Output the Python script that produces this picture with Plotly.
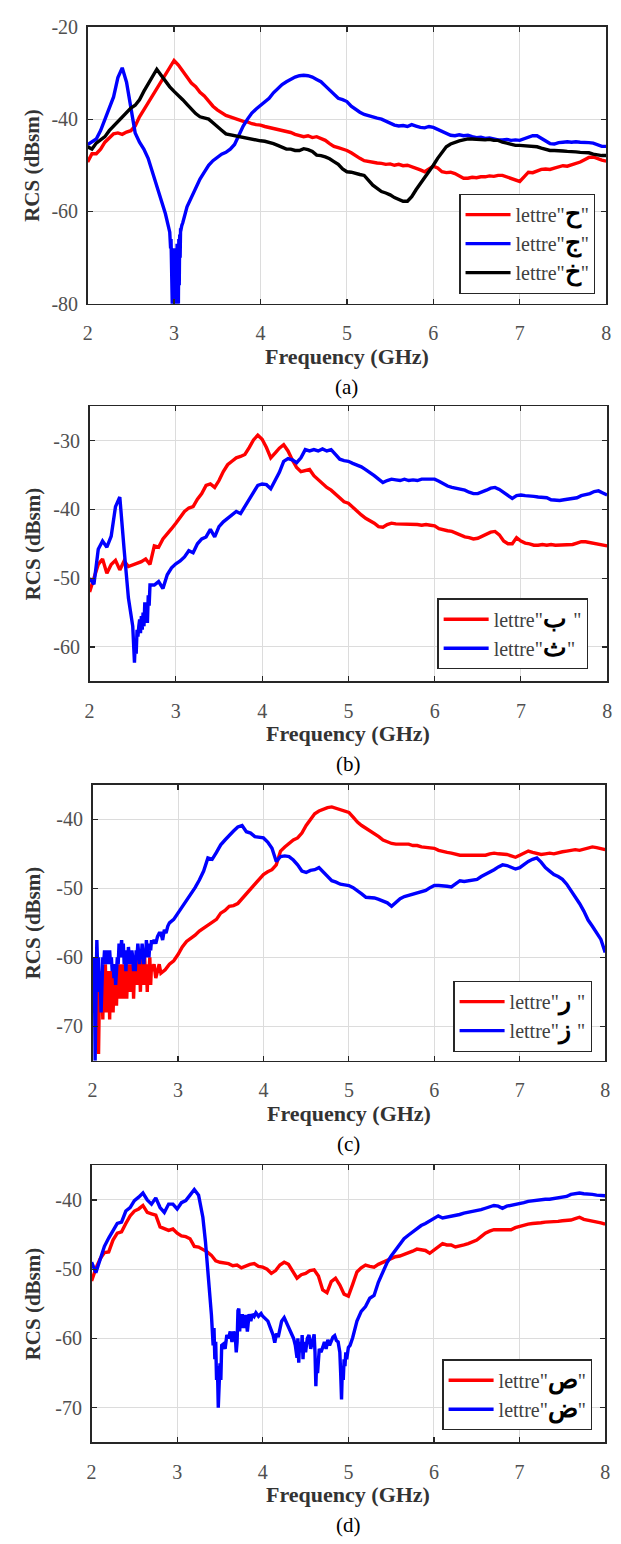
import plotly.graph_objects as go

W, H = 621, 1544
grid = [round(2 + 0.05 * i, 2) for i in range(121)]

# ---------------- Panel (a) ----------------
a_red = [-49.3, -47.5, -47.5, -46.5, -45, -44, -43.2, -43, -43.3, -42.8,
         -42.5, -41.5, -39.5, -38, -36.5, -35, -33.5, -32, -30.5, -29,
         -27.3, -28.3, -29.5, -31, -32.2, -33, -34.2, -35, -36.2, -37.2,
         -38, -38.7, -39.2, -39.5, -39.8, -40.2, -40.5, -40.6, -41, -41.2,
         -41.3, -41.6, -41.8, -42, -42.2, -42.4, -42.6, -42.9, -43.3, -43.6,
         -43.8, -43.6, -44, -43.8, -44.2, -44.6, -45.3, -45.9, -46.2, -46.5,
         -46.8, -47.3, -48, -48.5, -49, -49.2, -49.4, -49.5, -49.6, -49.8,
         -49.7, -50, -49.8, -50.1, -50, -50.3, -50.6, -51, -51.4, -50.8,
         -50.2, -50.6, -51.4, -51.6, -51.5, -51.8, -52.3, -52.8, -52.8, -52.6,
         -52.7, -52.5, -52.5, -52.3, -52.4, -52.2, -52.2, -52.5, -52.8, -53.2,
         -53.5, -52.5, -51.5, -51.6, -51.2, -50.9, -50.8, -50.9, -50.6, -50.3,
         -50.1, -50.2, -49.9, -49.5, -49.3, -48.8, -48.3, -48.2, -48.6, -48.9,
         -49.1]

a_blue_lo = [-45.5, -45, -44.3, -42.5, -40.2, -37.8, -35.2, -31, -28.9, -32,
             -38, -43, -45, -46.5, -48.5, -51.5, -55, -57.5, -60.5, -64.5]
a_blue_dip_f = [2.955, 2.96, 2.965, 2.97, 2.975, 2.98, 2.985, 2.99, 2.995, 3.0,
                3.005, 3.01, 3.015, 3.02, 3.025, 3.03, 3.035, 3.04, 3.045, 3.05,
                3.055, 3.06, 3.065, 3.07, 3.075, 3.08, 3.09]
a_blue_dip = [-66, -68, -66, -81, -67, -81, -68, -81, -68, -81,
              -69, -81, -68, -81, -68, -81, -67, -81, -67, -80,
              -66, -76, -65, -70, -64, -64, -63]
a_blue_hi = [-62.5, -59, -57, -55, -53, -51.5, -50, -49,
             -48.2, -47.6, -47.2, -46.5, -45.5, -43.5, -41.5, -40, -38.7, -37.8,
             -37, -36.2, -35.5, -34.3, -33.3, -32.5, -31.9, -31.3, -30.9, -30.6,
             -30.5, -30.6, -30.9, -31.4, -31.9, -32.8, -33.7, -34.6, -35.5, -35.8,
             -36.2, -37.2, -37.9, -38.5, -39, -39.3, -39.6, -39.8, -40, -40.5,
             -41, -41.3, -41.5, -41.4, -41.6, -41.2, -41.5, -41.8, -41.9, -41.6,
             -41.8, -42.2, -42.6, -43.1, -43.5, -43.6, -43.4, -43.6, -43.5, -43.8,
             -44, -43.9, -44.2, -44.1, -44.3, -44.5, -44.5, -44.4, -44.6, -44.5,
             -44.6, -44.2, -43.9, -43.6, -43.6, -44.2, -44.8, -45.3, -45.4, -45.1,
             -45, -44.9, -45, -44.9, -45, -45, -45.1, -45.2, -45.6, -45.9,
             -45.9]

a_black = [-46, -46.5, -45.2, -44.5, -43.8, -42.5, -41.5, -40.5, -39.5, -38.5,
           -37.6, -37, -35.8, -34, -32.3, -30.8, -29.2, -30.5, -31.8, -33,
           -34, -34.8, -35.8, -36.8, -37.8, -38.8, -39.5, -39.8, -40, -40.8,
           -41.5, -42.4, -43.2, -43.4, -43.6, -43.8, -44, -44.1, -44.3, -44.6,
           -44.7, -44.8, -45, -45.3, -45.7, -46.1, -46.5, -46.5, -46.8, -46.8,
           -46.4, -46.6, -47, -47.8, -47.9, -48.2, -48.6, -49.2, -49.8, -50.8,
           -51.4, -51.5, -51.8, -52, -52.2, -53.2, -54.3, -55, -55.7, -56,
           -56.4, -57, -57.4, -57.8, -57.8, -56.8, -55.3, -54, -52.8, -51.5,
           -50, -48.5, -47.2, -46, -45.4, -45, -44.7, -44.5, -44.3, -44.3,
           -44.4, -44.5, -44.5, -44.4, -44.6, -44.6, -45, -45.2, -45.5, -45.7,
           -45.7, -45.8, -45.9, -46, -46, -46.3, -46.6, -46.8, -46.8, -46.8,
           -46.9, -47, -47, -47.1, -47.2, -47.3, -47.3, -47.6, -47.8, -47.9,
           -47.9]

# ---------------- Panel (b) ----------------
b_red = [-52, -50, -48, -47.2, -49.3, -48, -47.4, -48.8, -47.5, -48.3,
         -48.1, -47.8, -47.6, -47.2, -48, -45.3, -45.5, -44.3, -43.6, -42.8,
         -42, -41.2, -40.3, -39.8, -39.6, -38.5, -37.7, -36.5, -36.3, -36.8,
         -35.8, -34.5, -33.5, -33, -32.5, -32.3, -32, -31, -29.9, -29.2,
         -29.8, -31, -32.5, -31.8, -31.1, -30.6, -31.5, -32.8, -33.9, -34.5,
         -34.4, -34.2, -35.1, -35.7, -36.3, -36.8, -37.2, -37.8, -38.4, -38.9,
         -39.1, -39.7, -40.3, -40.8, -41.3, -41.6, -42, -42.5, -42.6, -42.2,
         -42, -42.1, -42.1, -42.2, -42.2, -42.1, -42.2, -42.3, -42.2, -42.3,
         -42.4, -42.8, -43, -43.1, -43.2, -43.5, -43.7, -44, -44.1, -44.3,
         -44.2, -43.9, -43.6, -43.3, -43.2, -43.7, -44.6, -45, -45, -44.1,
         -44.6, -44.9, -45, -45.2, -45.2, -45.1, -45.2, -45.1, -45.2, -45.2,
         -45.1, -45.2, -45.1, -44.9, -44.7, -44.7, -44.8, -44.9, -45, -45.2,
         -45.3]

b_blue_lo = [-50, -50.9, -45.8, -44.6, -45.5, -43.9, -39.6, -38.2, -45.8, -52.9]
b_blue_dip_f = [round(2.5 + 0.01 * i, 2) for i in range(21)]
b_blue_dip = [-57, -60, -62.3, -59, -61, -57.5, -58.5, -57, -56, -58,
              -55.5, -57.5, -55, -57, -53.5, -56, -54, -56.5, -52.5, -54,
              -51]
b_blue_hi = [-51, -50.5, -51.5, -49.5, -48.5,
             -47.9, -47.5, -46.9, -46, -46.3, -45, -44.3, -44, -42.9, -44,
             -42.5, -41.8, -41.3, -40.8, -40.3, -40.6, -39.6, -38.5, -37.5, -36.5,
             -36.3, -36.4, -37, -35.8, -34.6, -33, -32.6, -32.8, -33.2, -32.5,
             -31.3, -31.5, -31.3, -31.5, -31.2, -31.5, -31.3, -32, -32.7, -32.9,
             -33, -33.3, -33.5, -33.8, -34.2, -34.6, -35.1, -35.6, -36.1, -35.8,
             -35.6, -35.7, -35.8, -35.6, -35.8, -35.7, -35.8, -35.6, -35.6, -35.5,
             -35.6, -35.9, -36.3, -36.6, -36.8, -36.9, -37, -37.2, -37.5, -37.7,
             -37.7, -37.5, -37.2, -36.9, -36.8, -37.1, -37.5, -38, -38.4, -38,
             -37.9, -38, -38, -38.1, -38.2, -38.3, -38.3, -38.6, -38.7, -38.7,
             -38.6, -38.5, -38.4, -38.3, -38, -37.9, -37.7, -37.4, -37.3, -37.6,
             -37.9]

# ---------------- Panel (c) ----------------
c_noise_f = [round(2 + 0.01 * i, 2) for i in range(71)]
c_red_noise = [-63, -66, -62, -65, -61, -64, -62, -74, -65, -62,
               -66, -63, -69, -62, -65, -61, -68, -63, -66, -62,
               -69, -63, -67, -62, -68, -64, -66, -61, -67, -62,
               -65, -61, -66, -63, -65, -61, -66, -62, -64, -61,
               -66, -62, -64, -61, -65, -62, -64, -61, -66, -62,
               -63, -61, -64, -60, -63, -61, -65, -60, -63, -61,
               -64, -60, -63, -61, -65, -61, -62, -60, -64, -61,
               -62]
c_red_mid_f = [2.72, 2.74, 2.76, 2.78]
c_red_mid = [-61, -63, -62, -61]
c_red_hi = [-62.3, -61.8, -61, -60.5,
            -59.6, -58.5, -57.7, -57.3, -56.8, -56.2, -55.8, -55.3, -54.9, -54.5,
            -53.6, -53.2, -52.6, -52.5, -52.2, -51.5, -50.8, -50, -49.4, -48.7,
            -48, -47.6, -47.3, -46.6, -44.6, -44, -43.5, -43, -42.7, -42,
            -40.9, -40, -39.2, -38.8, -38.5, -38.3, -38.2, -38.4, -38.5, -38.7,
            -39, -39.7, -40.4, -40.9, -41.3, -41.7, -42, -42.5, -43, -43.3,
            -43.5, -43.6, -43.6, -43.7, -43.6, -43.8, -43.8, -44, -44.1, -44.2,
            -44.2, -44.5, -44.7, -44.8, -44.9, -45.1, -45.2, -45.2, -45.2, -45.3,
            -45.2, -45.3, -45.2, -45, -44.9, -45, -45, -45.1, -45.3, -45.5,
            -45.2, -44.9, -44.6, -44.8, -45, -45.1, -45, -44.9, -45, -44.8,
            -44.7, -44.6, -44.5, -44.4, -44.5, -44.3, -44.2, -44, -44.1, -44.3,
            -44.4]

c_blue_noise = [-61, -64, -60, -75, -66, -57.5, -62, -60, -65, -63,
                -68, -62, -60, -61, -59, -60, -59, -61, -59, -60.5,
                -59, -61, -60, -62, -61, -63, -61, -64, -62, -60,
                -61, -58, -60, -58, -57.5, -60, -58, -61, -59, -62,
                -59, -61, -58.5, -60, -59, -61, -59, -60, -62, -60,
                -62, -59, -60, -58, -60, -61, -59, -60, -58, -60,
                -61, -59, -60, -57.5, -59, -58, -60, -58, -59, -57.5,
                -58]
c_blue_mid_f = [2.72, 2.74, 2.76, 2.78, 2.80, 2.82, 2.84, 2.86, 2.88]
c_blue_mid = [-57.5, -58, -57, -56.5, -56.5, -57.5, -56, -56.5, -55.5]
c_blue_hi = [-55, -54.5,
             -53.6, -52.5, -51.7, -50.8, -49.9, -48.8, -47.5, -45.6, -45.8, -44.8,
             -43.7, -43, -42.3, -41.7, -41.1, -40.9, -41.8, -42, -42.5, -42.6,
             -42.7, -43.3, -44.2, -46.1, -45.4, -45.3, -45.4, -45.9, -46.6, -47.5,
             -47.7, -47.4, -47.3, -47, -47.6, -48.3, -48.9, -49.1, -49.4, -49.5,
             -49.6, -49.9, -50.3, -50.8, -51.3, -51.3, -51.4, -51.6, -51.8, -52.1,
             -52.6, -52, -51.5, -51.2, -51, -50.8, -50.6, -50.4, -50.3, -49.9,
             -49.6, -49.6, -49.6, -49.7, -49.8, -49.3, -48.9, -49, -48.9, -48.8,
             -48.7, -48.3, -48, -47.6, -47.3, -46.9, -46.6, -46.7, -46.9, -47.2,
             -47, -46.5, -46.1, -45.8, -45.6, -46.2, -47, -47.5, -48, -48.3,
             -48.7, -49.4, -50.3, -51.2, -52.2, -53.3, -54.6, -55.5, -56.5, -57.4,
             -59.3]

# ---------------- Panel (d) ----------------
d_red = [-51.7, -49.9, -48.5, -47.6, -47.5, -45.8, -44.8, -44.6, -43.4, -42.3,
         -41.6, -41.3, -40.8, -41.8, -42, -42.2, -43.9, -44.2, -44.4, -44.2,
         -44.8, -45.2, -45.3, -45.6, -46.7, -46.8, -47.1, -47.5, -48, -48.8,
         -49, -49.1, -49.2, -49.5, -49.4, -49.8, -49.5, -49.3, -49.2, -49.6,
         -49.7, -50, -50.6, -50.2, -49.4, -49, -49.3, -50.2, -51.3, -50.8,
         -50.6, -50.2, -50.1, -51, -53, -53.4, -51.8, -51.3, -52.3, -53.6,
         -53.9, -52.2, -50.4, -49.8, -49.4, -49.6, -49.7, -49.3, -49, -48.7,
         -48.4, -48.2, -48.1, -47.9, -47.7, -47.4, -47.1, -47.2, -47.3, -47.7,
         -47.2, -46.7, -46.3, -46.5, -46.5, -46.8, -46.7, -46.5, -46.3, -46,
         -45.8, -45.3, -44.8, -44.5, -44.3, -44.3, -44.3, -44.3, -44.3, -44,
         -43.8, -43.6, -43.5, -43.4, -43.4, -43.3, -43.2, -43.2, -43.1, -43.1,
         -43, -43, -42.9, -42.7, -42.5, -42.8, -42.9, -43, -43.1, -43.3,
         -43.5]

d_blue_lo = [-49, -50.5, -48.6, -46.7, -45.5, -44.4, -43.4, -43.2, -41.6, -41.1,
             -40.1, -39.6, -39, -40, -40.6, -39.7, -41.1, -41.8, -40.6, -40.6,
             -41.3, -40.4, -40.1, -39.3, -38.5, -39.3, -42.5]
d_blue_dip_f = [3.33, 3.36, 3.38, 3.40, 3.42, 3.43, 3.44, 3.45, 3.46, 3.47,
                3.48, 3.49, 3.50, 3.51, 3.52, 3.54, 3.56, 3.58, 3.60, 3.62,
                3.64, 3.66, 3.68, 3.69, 3.70, 3.71, 3.72, 3.73, 3.74, 3.75,
                3.76, 3.78, 3.80, 3.82, 3.84, 3.86, 3.88, 3.90, 3.92, 3.95,
                3.98, 4.00, 4.03, 4.06, 4.09, 4.12, 4.14, 4.16, 4.18, 4.20,
                4.22, 4.25, 4.28, 4.30, 4.33, 4.36, 4.38, 4.40, 4.41, 4.42,
                4.43, 4.45, 4.46, 4.47, 4.48, 4.50, 4.52, 4.54, 4.56, 4.58,
                4.60, 4.61, 4.62, 4.63, 4.64, 4.66, 4.68, 4.70, 4.72, 4.74,
                4.76, 4.78, 4.80, 4.82, 4.84, 4.86, 4.88, 4.90, 4.91, 4.92,
                4.93, 4.94, 4.95, 4.96, 4.97, 4.98, 5.00, 5.02, 5.05]
d_blue_dip = [-46, -50, -54, -56.6, -61, -58.5, -63, -60.5, -66, -64,
              -70, -64.5, -63.6, -66, -61, -60.8, -61.5, -59.5, -60, -59,
              -60.5, -59, -60, -62, -60.5, -56, -55.7, -59, -56.5, -58.5,
              -56.5, -58.5, -56.6, -59, -56.5, -57.5, -56.5, -56.8, -56.3, -56.8,
              -56.4, -56.8, -57.2, -57.5, -58.5, -59.5, -60.6, -59.3, -59.8, -58.5,
              -57.5, -57, -57.8, -58.2, -59, -60, -61, -62.8, -60, -63.5,
              -60.5, -62, -59.5, -63, -60.5, -62, -60, -59.5, -61.5, -60.5,
              -59.4, -62, -66.9, -63, -65, -61.5, -62, -61.3, -60.5, -61.5,
              -60.2, -61, -60.4, -59.8, -59.6, -60.3, -60.5, -62, -65, -68.8,
              -64, -66, -63, -64, -62, -63, -61.3, -61, -59.9]
d_blue_hi = [-57.5, -56.1, -55.4, -54.2, -53.8, -51.9, -50.4, -49.1,
             -48.1, -47.2, -46.3, -45.6, -45.1, -44.6, -44.1, -43.7, -43.4, -43,
             -42.7, -42.3, -42.6, -42.5, -42.3, -42.2, -42.1, -41.9, -41.8, -41.7,
             -41.6, -41.4, -41.2, -41, -40.8, -40.9, -41.2, -40.9, -40.8, -40.6,
             -40.5, -40.4, -40.2, -40.1, -40, -40, -39.9, -39.9, -39.8, -39.7,
             -39.7, -39.5, -39.2, -39.1, -39, -39.1, -39.1, -39.2, -39.3, -39.4,
             -39.4]

# tick labels
x_ticks = [2, 3, 4, 5, 6, 7, 8]
a_yticks = [-80, -60, -40, -20]
b_yticks = [-60, -50, -40, -30]
c_yticks = [-70, -60, -50, -40]
d_yticks = [-70, -60, -50, -40]

# legend names
a_names = ['ح', 'ج', 'خ']
b_names = ['ب ', 'ث']
c_names = ['ر ', 'ز ']
d_names = ['ص', 'ض']
captions = ['(a)', '(b)', '(c)', '(d)']

# ---------------- assemble curves ----------------
def chk(f, v, name):
    assert len(f) == len(v), f"{name}: {len(f)} f vs {len(v)} v"
    return f, v

curves = {
    1: [
        (chk(grid, a_red, 'a_red'), 'red', a_names[0]),
        (chk(grid[:20] + a_blue_dip_f + grid[22:], a_blue_lo + a_blue_dip + a_blue_hi, 'a_blue'), 'blue', a_names[1]),
        (chk(grid, a_black, 'a_black'), 'black', a_names[2]),
    ],
    2: [
        (chk(grid, b_red, 'b_red'), 'red', b_names[0]),
        (chk(grid[:10] + b_blue_dip_f + grid[15:], b_blue_lo + b_blue_dip + b_blue_hi, 'b_blue'), 'blue', b_names[1]),
    ],
    3: [
        (chk(c_noise_f + c_red_mid_f + grid[16:], c_red_noise + c_red_mid + c_red_hi, 'c_red'), 'red', c_names[0]),
        (chk(c_noise_f + c_blue_mid_f + grid[18:], c_blue_noise + c_blue_mid + c_blue_hi, 'c_blue'), 'blue', c_names[1]),
    ],
    4: [
        (chk(grid, d_red, 'd_red'), 'red', d_names[0]),
        (chk(grid[:27] + d_blue_dip_f + grid[62:], d_blue_lo + d_blue_dip + d_blue_hi, 'd_blue'), 'blue', d_names[1]),
    ],
}

colors = {'red': '#ff0000', 'blue': '#0000ff', 'black': '#000000'}
SERIF = '"Liberation Serif", "Times New Roman", Tinos, "DejaVu Serif", serif'

fig = go.Figure()
for p in range(1, 5):
    sfx = '' if p == 1 else str(p)
    for (f, v), col, letter in curves[p]:
        name = ('lettre"<span style="font-size:25px;color:#000;font-weight:bold">'
                + letter + '</span>"')
        fig.add_trace(go.Scatter(
            x=f, y=v, mode='lines', name=name,
            line=dict(color=colors[col], width=3.4),
            xaxis='x' + sfx, yaxis='y' + sfx,
            legend='legend' + sfx, showlegend=True, hoverinfo='skip'))

# ---------------- layout ----------------
# panel frames in pixels: (left, right, top, bottom)
frames = {1: (84, 611, 16, 297), 2: (86, 612, 401, 680),
          3: (89, 610, 785, 1065), 4: (88, 610, 1171, 1452)}
yranges = {1: [-80, -20], 2: [-65, -25], 3: [-75, -35], 4: [-75, -35]}
yticks = {1: a_yticks, 2: b_yticks, 3: c_yticks, 4: d_yticks}
legend_pos = {1: (600, 287), 2: (593, 668), 3: (597, 1056), 4: (597, 1440)}

FRAME = '#262626'
GRID = '#dcdcdc'
TICKFONT = dict(family=SERIF, size=20, color='#505050')

layout = dict(width=W, height=H, margin=dict(l=0, r=0, t=0, b=0),
              paper_bgcolor='white', plot_bgcolor='white', annotations=[],
              font=dict(family=SERIF))

for p in range(1, 5):
    l, r, t, b = frames[p]
    sfx = '' if p == 1 else str(p)
    layout['xaxis' + sfx] = dict(
        domain=[l / W, r / W], range=[2, 8], anchor='y' + sfx,
        tickvals=x_ticks, ticktext=[str(x) for x in x_ticks],
        showline=True, linecolor=FRAME, linewidth=1.6, mirror='ticks',
        ticks='inside', ticklen=5, tickwidth=1.2, tickcolor=FRAME,
        showgrid=True, gridcolor=GRID, gridwidth=1, zeroline=False,
        tickfont=TICKFONT, ticklabelstandoff=11)
    layout['yaxis' + sfx] = dict(
        domain=[1 - b / H, 1 - t / H], range=yranges[p], anchor='x' + sfx,
        tickvals=yticks[p], ticktext=[str(y) for y in yticks[p]],
        showline=True, linecolor=FRAME, linewidth=1.6, mirror='ticks',
        ticks='inside', ticklen=5, tickwidth=1.2, tickcolor=FRAME,
        showgrid=True, gridcolor=GRID, gridwidth=1, zeroline=False,
        tickfont=TICKFONT, ticklabelstandoff=4)
    lx, ly = legend_pos[p]
    layout['legend' + sfx] = dict(
        x=lx / W, y=1 - ly / H, xanchor='right', yanchor='bottom',
        xref='paper', yref='paper',
        bgcolor='white', bordercolor=FRAME, borderwidth=1.2,
        font=dict(family=SERIF, size=20, color='#404040'),
        tracegroupgap=0, itemwidth=45)
    cx = (l + r) / 2
    layout['annotations'] += [
        dict(text='<b>Frequency (GHz)</b>', x=cx / W, y=1 - (b + 53) / H,
             xref='paper', yref='paper', showarrow=False, xanchor='center', yanchor='middle',
             font=dict(family=SERIF, size=22, color='#333333')),
        dict(text='<b>RCS (dBsm)</b>', x=28 / W, y=1 - ((t + b) / 2) / H,
             xref='paper', yref='paper', showarrow=False, textangle=-90,
             xanchor='center', yanchor='middle',
             font=dict(family=SERIF, size=21, color='#333333')),
        dict(text=captions[p - 1], x=cx / W, y=1 - (b + 84) / H,
             xref='paper', yref='paper', showarrow=False, xanchor='center', yanchor='middle',
             font=dict(family=SERIF, size=21, color='#000000')),
    ]

fig.update_layout(**layout)
fig.write_html('out.html',
               config={'displayModeBar': False, 'staticPlot': True},
               post_script="document.body.style.margin='0';"
                           "document.body.style.overflow='hidden';"
                           "document.documentElement.style.overflow='hidden';")
